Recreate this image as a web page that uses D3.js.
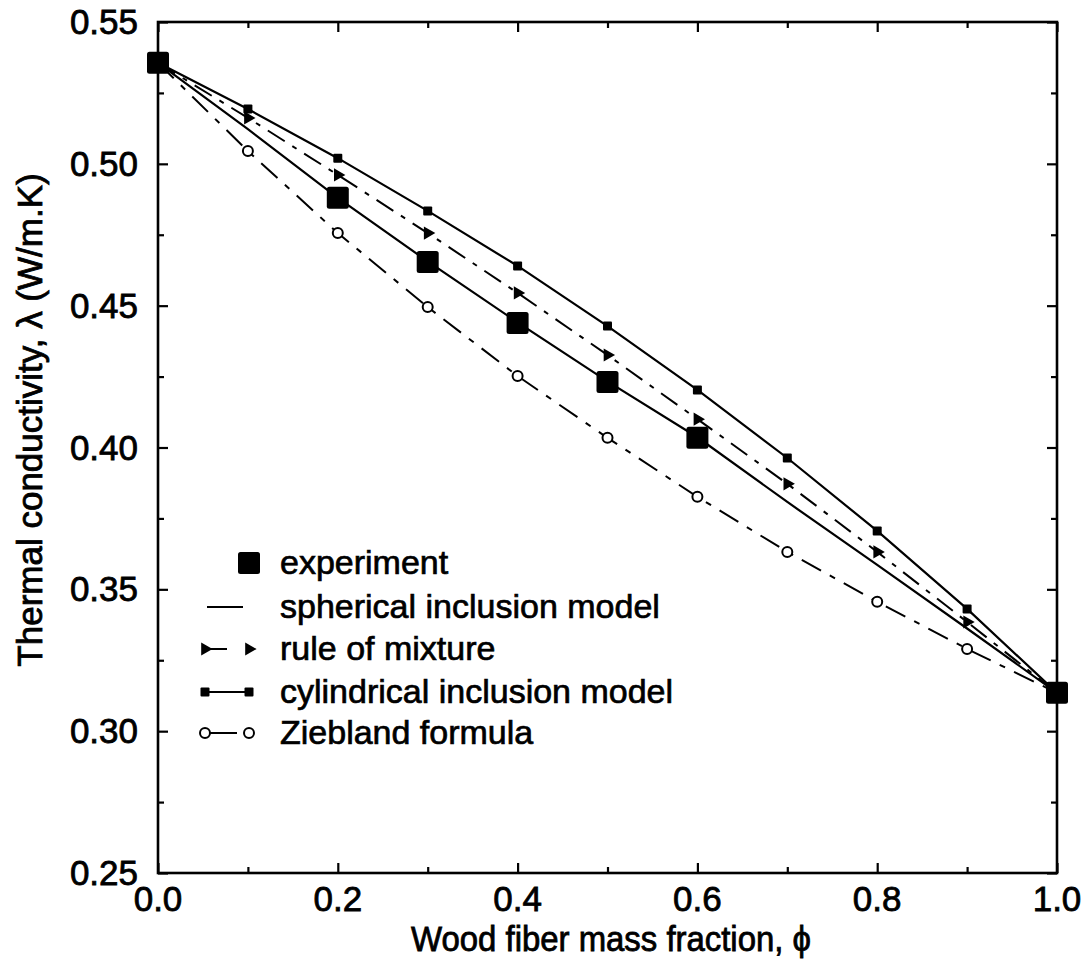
<!DOCTYPE html>
<html>
<head>
<meta charset="utf-8">
<script src="https://cdn.jsdelivr.net/npm/d3@7"></script>
<style>
  html, body { margin: 0; padding: 0; background: #fff; }
  svg { display: block; }
  text { font-family: "Liberation Sans", Arial, Helvetica, sans-serif; fill: #000; }
</style>
</head>
<body>
<svg id="chart" width="1090" height="971"></svg>
<script>
// Wood fiber mass fraction (x) for the model curves
const phi = [0, 0.1, 0.2, 0.3, 0.4, 0.5, 0.6, 0.7, 0.8, 0.9, 1.0];

// Measured thermal conductivity
const experimentPhi = [0, 0.2, 0.3, 0.4, 0.5, 0.6, 1.0];
const experiment = [0.5356, 0.488, 0.4654, 0.4439, 0.4231, 0.4034, 0.3135];

// Model predictions, one value per entry of phi
const spherical = [0.5356, 0.5122, 0.488, 0.4656, 0.4441, 0.4233, 0.4036, 0.3808, 0.3586, 0.3362, 0.3135];
const ruleOfMixture = [0.5356, 0.5162, 0.4961, 0.4756, 0.4545, 0.4326, 0.4100, 0.3872, 0.3632, 0.3385, 0.3135];
const cylindrical = [0.5356, 0.5193, 0.5020, 0.4834, 0.4640, 0.4428, 0.4203, 0.3963, 0.3706, 0.3431, 0.3135];
const ziebland = [0.5356, 0.5045, 0.4756, 0.4495, 0.4252, 0.4034, 0.3826, 0.3632, 0.3456, 0.3290, 0.3135];

// Axis ticks
const xMajor = [0, 0.2, 0.4, 0.6, 0.8, 1.0];
const xMinor = [0.1, 0.3, 0.5, 0.7, 0.9];
const yMajor = [0.25, 0.30, 0.35, 0.40, 0.45, 0.50, 0.55];
const yMinor = [0.275, 0.325, 0.375, 0.425, 0.475, 0.525];

const legendLabels = ["experiment", "spherical inclusion model", "rule of mixture",
                      "cylindrical inclusion model", "Ziebland formula"];

const svg = d3.select("#chart");
const L = 158, R = 1057, T = 22, B = 873;

const x = d3.scaleLinear().domain([0, 1]).range([L, R]);
const y = d3.scaleLinear().domain([0.25, 0.55]).range([B, T]);

const ink = "#000";
const dashRule = "20,9,5,9";
const dashZieb = "22,10,6,10";

// Tick marks on all four sides, pointing inward
const axes = [
  { make: () => d3.axisBottom(x), tf: `translate(0,${B})`, maj: xMajor, min: xMinor },
  { make: () => d3.axisTop(x), tf: `translate(0,${T})`, maj: xMajor, min: xMinor },
  { make: () => d3.axisLeft(y), tf: `translate(${L},0)`, maj: yMajor, min: yMinor },
  { make: () => d3.axisRight(y), tf: `translate(${R},0)`, maj: yMajor, min: yMinor }
];
axes.forEach(a => {
  const gMaj = svg.append("g").attr("transform", a.tf)
    .call(a.make().tickValues(a.maj).tickSize(-10).tickFormat(""));
  const gMin = svg.append("g").attr("transform", a.tf)
    .call(a.make().tickValues(a.min).tickSize(-6).tickFormat(""));
  [gMaj, gMin].forEach(g => {
    g.select(".domain").remove();
    g.selectAll(".tick line").attr("stroke", ink).attr("stroke-width", 2.2);
  });
});

// Frame
svg.append("rect")
  .attr("x", L).attr("y", T).attr("width", R - L).attr("height", B - T)
  .attr("fill", "none").attr("stroke", ink).attr("stroke-width", 2.6);

// Tick labels
const labelStyle = sel => sel.attr("font-size", 35).attr("stroke", ink).attr("stroke-width", 0.8);
svg.append("g").selectAll("text").data(xMajor).join("text")
  .attr("x", d => x(d)).attr("y", 911)
  .attr("text-anchor", "middle")
  .text(d => d3.format(".1f")(d))
  .call(labelStyle);
svg.append("g").selectAll("text").data(yMajor).join("text")
  .attr("x", 138).attr("y", d => y(d) + 12)
  .attr("text-anchor", "end")
  .text(d => d3.format(".2f")(d))
  .call(labelStyle);

// Axis titles
svg.append("text")
  .attr("x", 611).attr("y", 951)
  .attr("text-anchor", "middle")
  .attr("textLength", 400).attr("lengthAdjust", "spacingAndGlyphs")
  .text("Wood fiber mass fraction, \u03d5")
  .call(labelStyle);
svg.append("text")
  .attr("transform", "translate(42,420) rotate(-90)")
  .attr("text-anchor", "middle")
  .text("Thermal conductivity, \u03bb (W/m.K)")
  .call(labelStyle);

const plot = svg.append("g");
const line = d3.line().x(d => x(d[0])).y(d => y(d[1]));
const pairs = vals => phi.map((p, i) => [p, vals[i]]);

// Model curves
plot.append("path").datum(pairs(ziebland)).attr("d", line)
  .attr("fill", "none").attr("stroke", ink).attr("stroke-width", 2).attr("stroke-dasharray", dashZieb);
plot.append("path").datum(pairs(ruleOfMixture)).attr("d", line)
  .attr("fill", "none").attr("stroke", ink).attr("stroke-width", 2).attr("stroke-dasharray", dashRule);
plot.append("path").datum(pairs(cylindrical)).attr("d", line)
  .attr("fill", "none").attr("stroke", ink).attr("stroke-width", 2.2);
plot.append("path").datum(pairs(spherical)).attr("d", line)
  .attr("fill", "none").attr("stroke", ink).attr("stroke-width", 2.2);

// Marker drawing helpers
const tri = d3.symbol().type(d3.symbolTriangle).size(75)();
function drawCircle(g, cx, cy) {
  g.append("circle").attr("cx", cx).attr("cy", cy).attr("r", 5)
    .attr("fill", "#fff").attr("stroke", ink).attr("stroke-width", 2);
}
function drawTri(g, cx, cy) {
  g.append("path").attr("d", tri)
    .attr("transform", `translate(${cx},${cy}) rotate(90)`).attr("fill", ink);
}
function drawSmallSq(g, cx, cy) {
  g.append("rect").attr("x", cx - 4.5).attr("y", cy - 4.5).attr("width", 9).attr("height", 9)
    .attr("rx", 1).attr("fill", ink);
}
function drawBigSq(g, cx, cy) {
  g.append("rect").attr("x", cx - 11).attr("y", cy - 11).attr("width", 22).attr("height", 22)
    .attr("rx", 2.5).attr("fill", ink);
}

// Model markers at interior points
phi.forEach((p, i) => {
  if (i === 0 || i === phi.length - 1) return;
  drawCircle(plot, x(p), y(ziebland[i]));
  drawTri(plot, x(p), y(ruleOfMixture[i]));
  drawSmallSq(plot, x(p), y(cylindrical[i]));
});

// Experimental points
experimentPhi.forEach((p, i) => drawBigSq(plot, x(p), y(experiment[i])));

// Legend
const leg = svg.append("g");
const lx0 = 205, lx1 = 249, tx = 280;
const rows = [563, 607, 649, 692, 733];
drawBigSq(leg, lx1, rows[0]);
leg.append("line").attr("x1", 207).attr("x2", 243).attr("y1", rows[1]).attr("y2", rows[1])
  .attr("stroke", ink).attr("stroke-width", 2);
leg.append("line").attr("x1", lx0).attr("x2", lx1).attr("y1", rows[2]).attr("y2", rows[2])
  .attr("stroke", ink).attr("stroke-width", 2).attr("stroke-dasharray", "22,30");
drawTri(leg, lx0, rows[2]); drawTri(leg, lx1, rows[2]);
leg.append("line").attr("x1", lx0).attr("x2", lx1).attr("y1", rows[3]).attr("y2", rows[3])
  .attr("stroke", ink).attr("stroke-width", 2);
drawSmallSq(leg, lx0, rows[3]); drawSmallSq(leg, lx1, rows[3]);
leg.append("line").attr("x1", lx0).attr("x2", lx1 - 12).attr("y1", rows[4]).attr("y2", rows[4])
  .attr("stroke", ink).attr("stroke-width", 2);
drawCircle(leg, lx0, rows[4]); drawCircle(leg, lx1, rows[4]);

leg.selectAll("text.lab").data(legendLabels).join("text")
  .attr("class", "lab")
  .attr("x", tx).attr("y", (d, i) => rows[i] + 11)
  .attr("font-size", 34).attr("stroke", ink).attr("stroke-width", 0.7)
  .text(d => d);
</script>
</body>
</html>
